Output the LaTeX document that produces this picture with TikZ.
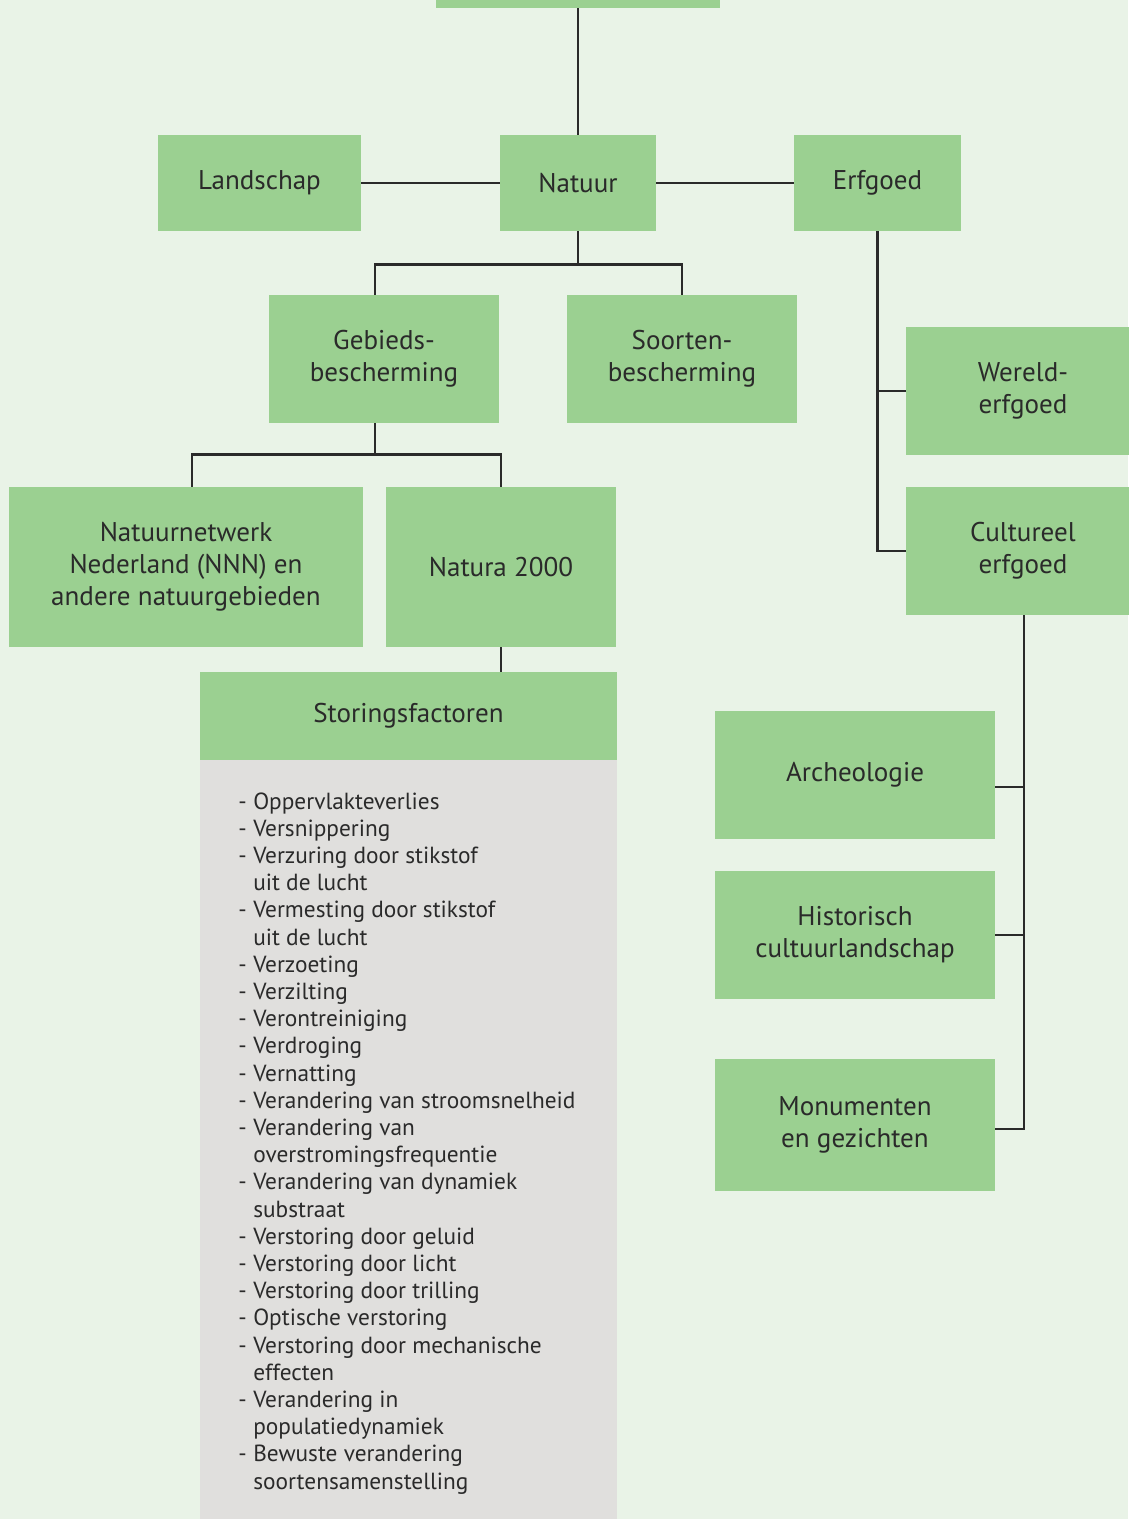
\documentclass[tikz,border=0pt]{standalone}
\usepackage{fontspec}
\setmainfont{PT Sans}
\usepackage{tikz}
\usetikzlibrary{positioning}
\definecolor{achtergrond}{RGB}{233,243,231}
\definecolor{groen}{RGB}{155,208,145}
\definecolor{grijs}{RGB}{224,223,221}
\definecolor{lijn}{RGB}{42,42,42}
\tikzset{
  blok/.style={fill=groen, align=center, inner sep=0pt, text=lijn,
    font=\fontsize{20.3}{24}\selectfont},
  tak/.style={draw=lijn, line width=2.2pt},
  regel/.style={anchor=base west, inner sep=0pt, text=lijn,
    font=\fontsize{17.5}{20}\selectfont},
}
% name, x1, y1, x2, y2, text (pixels)
\newcommand{\blok}[7][groen]{
  \pgfmathsetmacro\bw{(#5-#3)*0.75}
  \pgfmathsetmacro\bh{(#6-#4)*0.75}
  \node[blok, fill=#1, minimum width=\bw pt, minimum height=\bh pt] (#2) at ({(#3+#5)/2},{(#4+#6)/2}) {#7};
}

\begin{document}
\begin{tikzpicture}[x=0.75pt,y=-0.75pt]
\path[use as bounding box, fill=achtergrond] (0,0) rectangle (1128,1519);
\blok{top}{436}{-60}{720}{8}{}
\blok{landschap}{158}{135}{361}{231}{Landschap}
\blok{natuur}{500}{135}{656}{231}{Natuur}
\blok{erfgoed}{794}{135}{961}{231}{Erfgoed}
\blok{gebieds}{269}{295}{499}{423}{Gebieds-\\bescherming}
\blok{soorten}{567}{295}{797}{423}{Soorten-\\bescherming}
\blok{nnn}{9}{487}{363}{647}{Natuurnetwerk\\Nederland (NNN) en\\andere natuurgebieden}
\blok{natura}{386}{487}{616}{647}{Natura 2000}
\blok{storing}{200}{672}{617}{760}{Storingsfactoren}
\blok[grijs]{lijst}{200}{760}{617}{1540}{}
\blok{wereld}{906}{327}{1140}{455}{Wereld-\\erfgoed}
\blok{cultureel}{906}{487}{1140}{615}{Cultureel\\erfgoed}
\blok{archeologie}{715}{711}{995}{839}{Archeologie}
\blok{historisch}{715}{871}{995}{999}{Historisch\\cultuurlandschap}
\blok{monumenten}{715}{1059}{995}{1191}{Monumenten\\en gezichten}

% verbindingen
\draw[tak] (top.south) -- (natuur.north);
\draw[tak] (landschap.east) -- (natuur.west);
\draw[tak] (natuur.east) -- (erfgoed.west);
\draw[tak] (natuur.south) -- ++(0,33) coordinate (nsplit) -| ([xshift=-6.75pt]gebieds.north);
\draw[tak] (nsplit) -| (soorten.north);
\draw[tak] ([xshift=-6.75pt]gebieds.south) -- ++(0,31) coordinate (gsplit) -| ([xshift=4.5pt]nnn.north);
\draw[tak] (gsplit) -| (natura.north);
\draw[tak] (natura.south) -- (natura.south |- storing.north);
\draw[tak] (erfgoed.south) |- (cultureel.west);
\draw[tak] (erfgoed.south |- wereld.west) -- (wereld.west);
\draw[tak] ([xshift=0.75pt]cultureel.south) |- ([yshift=-3pt]monumenten.east);
\draw[tak] ([xshift=0.75pt]cultureel.south |- archeologie.east) ++(0,12) -- ([yshift=-9pt]archeologie.east);
\draw[tak] ([xshift=0.75pt]cultureel.south |- historisch.east) -- (historisch.east);

% storingsfactoren
\foreach \d/\t [count=\i] in {-/Oppervlakteverlies, -/Versnippering,
  -/Verzuring door stikstof, /uit de lucht, -/Vermesting door stikstof,
  /uit de lucht, -/Verzoeting, -/Verzilting, -/Verontreiniging,
  -/Verdroging, -/Vernatting, -/Verandering van stroomsnelheid,
  -/Verandering van, /overstromingsfrequentie, -/Verandering van dynamiek,
  /substraat, -/Verstoring door geluid, -/Verstoring door licht,
  -/Verstoring door trilling, -/Optische verstoring,
  -/Verstoring door mechanische, /effecten, -/Verandering in,
  /populatiedynamiek, -/Bewuste verandering, /soortensamenstelling}{
  \node[regel] (streep\i) at (238,{809+27.2*(\i-1)}) {\d};
  \node[regel] (factor\i) at (253,{809+27.2*(\i-1)}) {\t};
}
\end{tikzpicture}
\end{document}
